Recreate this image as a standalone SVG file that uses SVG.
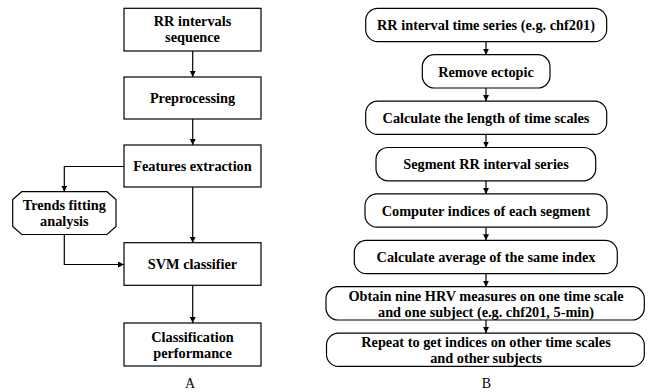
<svg xmlns="http://www.w3.org/2000/svg" width="653" height="392" viewBox="0 0 653 392">
<defs>
<style>
.box{fill:#fff;stroke:#000;stroke-width:1.2}
.t{font-family:"Liberation Serif","Times New Roman",serif;font-weight:bold;font-size:14.3px;text-anchor:middle;fill:#000}
.lbl{font-family:"Liberation Serif","Times New Roman",serif;font-size:14px;text-anchor:middle;fill:#000}
.c{fill:none;stroke:#000;stroke-width:1.2}
</style>
<marker id="ah" viewBox="0 0 10 10" refX="10" refY="5" markerWidth="6" markerHeight="6" markerUnits="userSpaceOnUse" orient="auto">
<path d="M0,0 L10,5 L0,10 z" fill="#000"/>
</marker>
</defs>
<rect width="653" height="392" fill="#fff"/>
<g id="connectors">
<line class="c" x1="192.7" y1="51" x2="192.7" y2="77" marker-end="url(#ah)"/>
<line class="c" x1="192.7" y1="119" x2="192.7" y2="145" marker-end="url(#ah)"/>
<polyline class="c" points="124,166.5 64.3,166.5 64.3,191.7" marker-end="url(#ah)"/>
<line class="c" x1="192.7" y1="187" x2="192.7" y2="242.7" marker-end="url(#ah)"/>
<polyline class="c" points="64.3,234.5 64.3,264.5 124,264.5" marker-end="url(#ah)"/>
<line class="c" x1="192.7" y1="285.3" x2="192.7" y2="323" marker-end="url(#ah)"/>
<line class="c" x1="486" y1="41.6" x2="486" y2="54.7" marker-end="url(#ah)"/>
<line class="c" x1="486" y1="88" x2="486" y2="101.1" marker-end="url(#ah)"/>
<line class="c" x1="486" y1="134.4" x2="486" y2="147.5" marker-end="url(#ah)"/>
<line class="c" x1="486" y1="180.8" x2="486" y2="193.9" marker-end="url(#ah)"/>
<line class="c" x1="486" y1="227.2" x2="486" y2="240.3" marker-end="url(#ah)"/>
<line class="c" x1="486" y1="273.6" x2="486" y2="286.7" marker-end="url(#ah)"/>
<line class="c" x1="486" y1="320" x2="486" y2="333.1" marker-end="url(#ah)"/>
</g>
<g id="a1"><rect class="box" x="124" y="8.3" width="137" height="42.7"/><text class="t" x="192.5" y="26">RR intervals</text><text class="t" x="192.5" y="42">sequence</text></g>
<g id="a2"><rect class="box" x="124" y="77" width="137" height="42"/><text class="t" x="192.5" y="103.3">Preprocessing</text></g>
<g id="a3"><rect class="box" x="124" y="145" width="137" height="42"/><text class="t" x="192.5" y="171">Features extraction</text></g>
<g id="a4"><polygon class="box" points="21.7,191.7 107,191.7 116,199.5 116,226.5 107,234.5 21.7,234.5 12.7,226.5 12.7,199.5"/><text class="t" x="64.3" y="210">Trends fitting</text><text class="t" x="64.3" y="226.3">analysis</text></g>
<g id="a5"><rect class="box" x="124" y="242.7" width="137" height="42.6"/><text class="t" x="192.5" y="269">SVM classifier</text></g>
<g id="a6"><rect class="box" x="124" y="323" width="137" height="43"/><text class="t" x="192.5" y="341.7">Classification</text><text class="t" x="192.5" y="358">performance</text></g>
<text class="lbl" x="190" y="388.3">A</text>
<g id="b1"><rect class="box" x="365.7" y="8.3" width="241" height="33.3" rx="12" ry="12"/><text class="t" x="486" y="30.2">RR interval time series (e.g. chf201)</text></g>
<g id="b2"><rect class="box" x="422.3" y="54.7" width="127.7" height="33.3" rx="12" ry="12"/><text class="t" x="486" y="76.6">Remove ectopic</text></g>
<g id="b3"><rect class="box" x="365.7" y="101.1" width="241" height="33.3" rx="12" ry="12"/><text class="t" x="486" y="123">Calculate the length of time scales</text></g>
<g id="b4"><rect class="box" x="376" y="147.5" width="219.7" height="33.3" rx="12" ry="12"/><text class="t" x="486" y="169.4">Segment RR interval series</text></g>
<g id="b5"><rect class="box" x="365" y="193.9" width="242" height="33.3" rx="12" ry="12"/><text class="t" x="486" y="215.8">Computer indices of each segment</text></g>
<g id="b6"><rect class="box" x="354.3" y="240.3" width="263" height="33.3" rx="12" ry="12"/><text class="t" x="486" y="262.2">Calculate average of the same index</text></g>
<g id="b7"><rect class="box" x="326" y="286.7" width="318.3" height="33.3" rx="12" ry="12"/><text class="t" x="486" y="300.7">Obtain nine HRV measures on one time scale</text><text class="t" x="486" y="316.7">and one subject (e.g. chf201, 5-min)</text></g>
<g id="b8"><rect class="box" x="326.5" y="333.1" width="317.8" height="33.3" rx="12" ry="12"/><text class="t" x="486" y="347.2">Repeat to get indices on other time scales</text><text class="t" x="486" y="363.2">and other subjects</text></g>
<text class="lbl" x="486.5" y="388.3">B</text>
</svg>
